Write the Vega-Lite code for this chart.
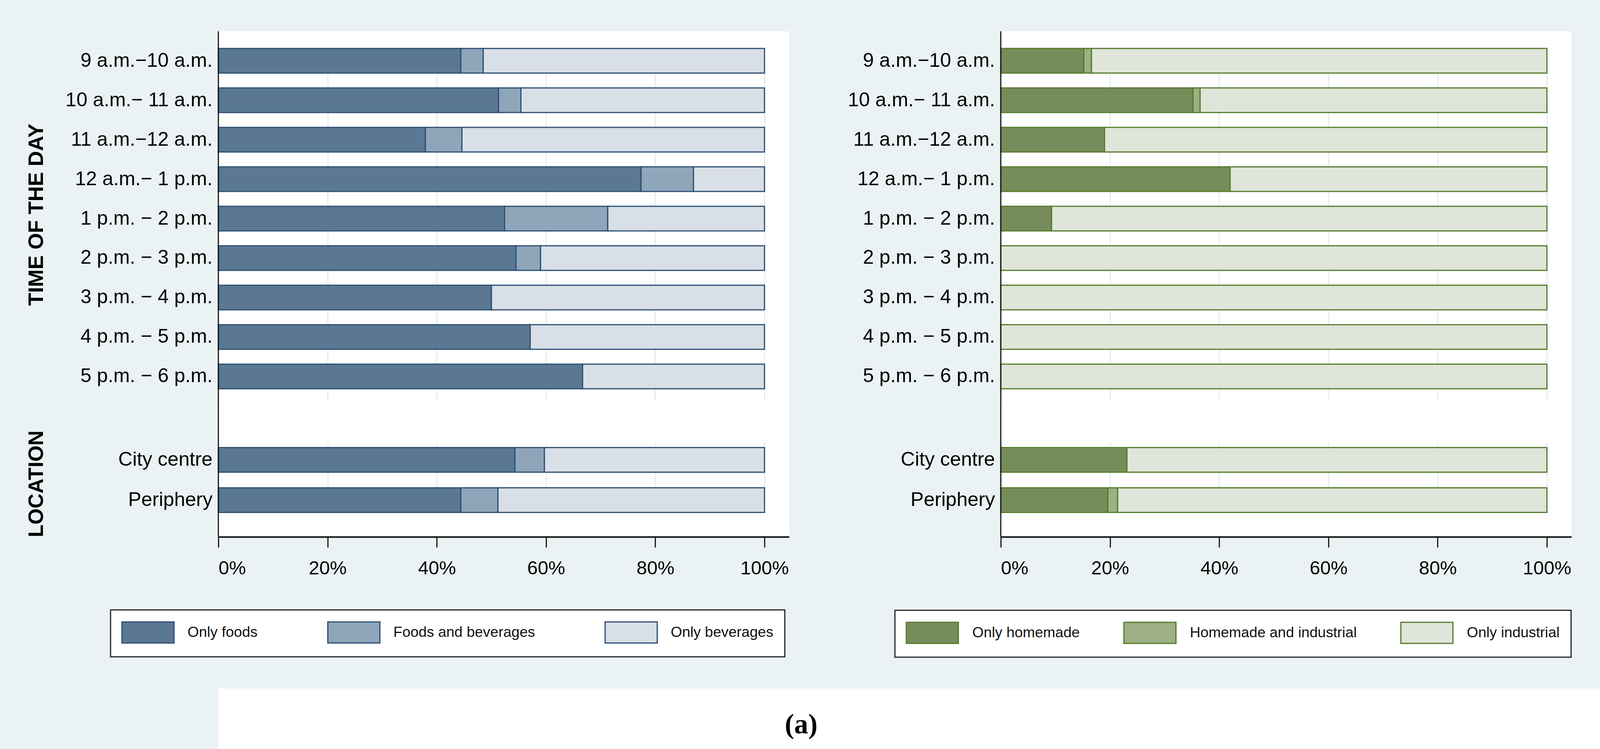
{
  "$schema": "https://vega.github.io/schema/vega-lite/v6.json",
  "background": "#EAF2F3",
  "padding": {"left": 66, "top": 78, "right": 0, "bottom": 0},
  "datasets": {
    "left": [
      {"g": "time", "slot": "9 a.m.−10 a.m.", "type": "Only foods", "k": 1, "pct": 44.4},
      {"g": "time", "slot": "9 a.m.−10 a.m.", "type": "Foods and beverages", "k": 2, "pct": 4.1},
      {"g": "time", "slot": "9 a.m.−10 a.m.", "type": "Only beverages", "k": 3, "pct": 51.5},
      {"g": "time", "slot": "10 a.m.− 11 a.m.", "type": "Only foods", "k": 1, "pct": 51.3},
      {"g": "time", "slot": "10 a.m.− 11 a.m.", "type": "Foods and beverages", "k": 2, "pct": 4.1},
      {"g": "time", "slot": "10 a.m.− 11 a.m.", "type": "Only beverages", "k": 3, "pct": 44.6},
      {"g": "time", "slot": "11 a.m.−12 a.m.", "type": "Only foods", "k": 1, "pct": 37.9},
      {"g": "time", "slot": "11 a.m.−12 a.m.", "type": "Foods and beverages", "k": 2, "pct": 6.7},
      {"g": "time", "slot": "11 a.m.−12 a.m.", "type": "Only beverages", "k": 3, "pct": 55.4},
      {"g": "time", "slot": "12 a.m.− 1 p.m.", "type": "Only foods", "k": 1, "pct": 77.4},
      {"g": "time", "slot": "12 a.m.− 1 p.m.", "type": "Foods and beverages", "k": 2, "pct": 9.6},
      {"g": "time", "slot": "12 a.m.− 1 p.m.", "type": "Only beverages", "k": 3, "pct": 13.0},
      {"g": "time", "slot": "1 p.m. − 2 p.m.", "type": "Only foods", "k": 1, "pct": 52.4},
      {"g": "time", "slot": "1 p.m. − 2 p.m.", "type": "Foods and beverages", "k": 2, "pct": 18.9},
      {"g": "time", "slot": "1 p.m. − 2 p.m.", "type": "Only beverages", "k": 3, "pct": 28.7},
      {"g": "time", "slot": "2 p.m. − 3 p.m.", "type": "Only foods", "k": 1, "pct": 54.5},
      {"g": "time", "slot": "2 p.m. − 3 p.m.", "type": "Foods and beverages", "k": 2, "pct": 4.5},
      {"g": "time", "slot": "2 p.m. − 3 p.m.", "type": "Only beverages", "k": 3, "pct": 41.0},
      {"g": "time", "slot": "3 p.m. − 4 p.m.", "type": "Only foods", "k": 1, "pct": 50.0},
      {"g": "time", "slot": "3 p.m. − 4 p.m.", "type": "Only beverages", "k": 3, "pct": 50.0},
      {"g": "time", "slot": "4 p.m. − 5 p.m.", "type": "Only foods", "k": 1, "pct": 57.1},
      {"g": "time", "slot": "4 p.m. − 5 p.m.", "type": "Only beverages", "k": 3, "pct": 42.9},
      {"g": "time", "slot": "5 p.m. − 6 p.m.", "type": "Only foods", "k": 1, "pct": 66.7},
      {"g": "time", "slot": "5 p.m. − 6 p.m.", "type": "Only beverages", "k": 3, "pct": 33.3},
      {"g": "loc", "slot": "City centre", "type": "Only foods", "k": 1, "pct": 54.3},
      {"g": "loc", "slot": "City centre", "type": "Foods and beverages", "k": 2, "pct": 5.4},
      {"g": "loc", "slot": "City centre", "type": "Only beverages", "k": 3, "pct": 40.3},
      {"g": "loc", "slot": "Periphery", "type": "Only foods", "k": 1, "pct": 44.4},
      {"g": "loc", "slot": "Periphery", "type": "Foods and beverages", "k": 2, "pct": 6.8},
      {"g": "loc", "slot": "Periphery", "type": "Only beverages", "k": 3, "pct": 48.8}
    ],
    "right": [
      {"g": "time", "slot": "9 a.m.−10 a.m.", "type": "Only homemade", "k": 1, "pct": 15.2},
      {"g": "time", "slot": "9 a.m.−10 a.m.", "type": "Homemade and industrial", "k": 2, "pct": 1.4},
      {"g": "time", "slot": "9 a.m.−10 a.m.", "type": "Only industrial", "k": 3, "pct": 83.4},
      {"g": "time", "slot": "10 a.m.− 11 a.m.", "type": "Only homemade", "k": 1, "pct": 35.2},
      {"g": "time", "slot": "10 a.m.− 11 a.m.", "type": "Homemade and industrial", "k": 2, "pct": 1.3},
      {"g": "time", "slot": "10 a.m.− 11 a.m.", "type": "Only industrial", "k": 3, "pct": 63.5},
      {"g": "time", "slot": "11 a.m.−12 a.m.", "type": "Only homemade", "k": 1, "pct": 19.0},
      {"g": "time", "slot": "11 a.m.−12 a.m.", "type": "Only industrial", "k": 3, "pct": 81.0},
      {"g": "time", "slot": "12 a.m.− 1 p.m.", "type": "Only homemade", "k": 1, "pct": 42.0},
      {"g": "time", "slot": "12 a.m.− 1 p.m.", "type": "Only industrial", "k": 3, "pct": 58.0},
      {"g": "time", "slot": "1 p.m. − 2 p.m.", "type": "Only homemade", "k": 1, "pct": 9.3},
      {"g": "time", "slot": "1 p.m. − 2 p.m.", "type": "Only industrial", "k": 3, "pct": 90.7},
      {"g": "time", "slot": "2 p.m. − 3 p.m.", "type": "Only industrial", "k": 3, "pct": 100},
      {"g": "time", "slot": "3 p.m. − 4 p.m.", "type": "Only industrial", "k": 3, "pct": 100},
      {"g": "time", "slot": "4 p.m. − 5 p.m.", "type": "Only industrial", "k": 3, "pct": 100},
      {"g": "time", "slot": "5 p.m. − 6 p.m.", "type": "Only industrial", "k": 3, "pct": 100},
      {"g": "loc", "slot": "City centre", "type": "Only homemade", "k": 1, "pct": 23.1},
      {"g": "loc", "slot": "City centre", "type": "Only industrial", "k": 3, "pct": 76.9},
      {"g": "loc", "slot": "Periphery", "type": "Only homemade", "k": 1, "pct": 19.6},
      {"g": "loc", "slot": "Periphery", "type": "Homemade and industrial", "k": 2, "pct": 1.8},
      {"g": "loc", "slot": "Periphery", "type": "Only industrial", "k": 3, "pct": 78.6}
    ]
  },
  "spacing": 78,
  "columns": 1,
  "align": "none",
  "concat": [
    {
      "spacing": 139,
      "resolve": {"scale": {"color": "independent"}, "legend": {"color": "independent"}},
      "hconcat": [
        {
          "spacing": 0,
          "bounds": "flush",
          "resolve": {"scale": {"color": "independent"}, "legend": {"color": "independent"}},
          "vconcat": [
            {
              "width": 1461,
              "height": 990,
              "layer": [
                {
                  "data": {"name": "left"},
                  "transform": [{"filter": "datum.g === 'time'"}],
                  "mark": {"type": "bar", "stroke": "#2B4F73", "strokeWidth": 3},
                  "encoding": {
                    "y": {
                      "field": "slot", "type": "nominal",
                      "sort": ["9 a.m.−10 a.m.", "10 a.m.− 11 a.m.", "11 a.m.−12 a.m.", "12 a.m.− 1 p.m.", "1 p.m. − 2 p.m.", "2 p.m. − 3 p.m.", "3 p.m. − 4 p.m.", "4 p.m. − 5 p.m.", "5 p.m. − 6 p.m."],
                      "scale": {"range": [44, 915], "paddingInner": 0.376, "paddingOuter": 0},
                      "axis": {"title": "TIME OF THE DAY", "titleFontSize": 54, "ticks": false, "domain": false, "labelPadding": 15.3, "minExtent": 420, "maxExtent": 420, "titlePadding": 19, "titleY": 469}
                    },
                    "x": {
                      "field": "pct", "type": "quantitative", "stack": "zero",
                      "scale": {"domain": [0, 104.5], "nice": false},
                      "axis": {"title": null, "labels": false, "ticks": false, "domain": false, "grid": true, "values": [0, 20, 40, 60, 80, 100]}
                    },
                    "color": {
                      "field": "type", "type": "nominal",
                      "scale": {"domain": ["Only foods", "Foods and beverages", "Only beverages"], "range": ["#5B7893", "#8EA5BA", "#D8DFE7"]},
                      "legend": null
                    },
                    "order": {"field": "k", "type": "quantitative"}
                  }
                },
                {
                  "data": {"values": [{}]},
                  "mark": {"type": "rule", "color": "#111111", "strokeWidth": 2.9},
                  "encoding": {"x": {"datum": 0}}
                }
              ]
            },
            {
              "width": 1461,
              "height": 304,
              "layer": [
                {
                  "data": {"name": "left"},
                  "transform": [{"filter": "datum.g === 'loc'"}],
                  "mark": {"type": "bar", "stroke": "#2B4F73", "strokeWidth": 3},
                  "encoding": {
                    "y": {
                      "field": "slot", "type": "nominal",
                      "sort": ["City centre", "Periphery"],
                      "scale": {"range": [75.5, 241.5], "paddingInner": 0.388, "paddingOuter": 0},
                      "axis": {"title": "LOCATION", "titleFontSize": 53, "ticks": false, "domain": false, "labelPadding": 15.3, "minExtent": 420, "maxExtent": 420, "titlePadding": 19, "titleY": 168}
                    },
                    "x": {
                      "field": "pct", "type": "quantitative", "stack": "zero",
                      "scale": {"domain": [0, 104.5], "nice": false},
                      "axis": {"title": null, "grid": true, "values": [0, 20, 40, 60, 80, 100], "labelExpr": "datum.value + '%'", "tickSize": 27, "tickWidth": 2.9, "tickColor": "#111111", "domainColor": "#111111", "domainWidth": 4, "labelFontSize": 48.5, "labelPadding": 30}
                    },
                    "color": {
                      "field": "type", "type": "nominal",
                      "scale": {"domain": ["Only foods", "Foods and beverages", "Only beverages"], "range": ["#5B7893", "#8EA5BA", "#D8DFE7"]},
                      "legend": {
                        "orient": "none", "legendX": -276, "legendY": 491, "direction": "horizontal", "columns": 3, "title": null,
                        "symbolType": "M-2.47,-1H2.47V1H-2.47Z", "symbolSize": 2916, "symbolOffset": 38.3, "labelOffset": 72.7,
                        "columnPadding": 173, "padding": 29, "fillColor": "white", "strokeColor": "#222222",
                        "symbolStrokeColor": "#2B4F73", "symbolStrokeWidth": 3, "symbolOpacity": 1,
                        "labelFontSize": 37.5, "labelColor": "#111111", "labelLimit": 700
                      }
                    },
                    "order": {"field": "k", "type": "quantitative"}
                  }
                },
                {
                  "data": {"values": [{}]},
                  "mark": {"type": "rule", "color": "#111111", "strokeWidth": 2.9},
                  "encoding": {"x": {"datum": 0}}
                }
              ]
            }
          ]
        },
        {
          "spacing": 0,
          "bounds": "flush",
          "resolve": {"scale": {"color": "independent"}, "legend": {"color": "independent"}},
          "vconcat": [
            {
              "width": 1461,
              "height": 990,
              "layer": [
                {
                  "data": {"name": "right"},
                  "transform": [{"filter": "datum.g === 'time'"}],
                  "mark": {"type": "bar", "stroke": "#557A2A", "strokeWidth": 3},
                  "encoding": {
                    "y": {
                      "field": "slot", "type": "nominal",
                      "sort": ["9 a.m.−10 a.m.", "10 a.m.− 11 a.m.", "11 a.m.−12 a.m.", "12 a.m.− 1 p.m.", "1 p.m. − 2 p.m.", "2 p.m. − 3 p.m.", "3 p.m. − 4 p.m.", "4 p.m. − 5 p.m.", "5 p.m. − 6 p.m."],
                      "scale": {"range": [44, 915], "paddingInner": 0.376, "paddingOuter": 0},
                      "axis": {"title": null, "ticks": false, "domain": false, "labelPadding": 15.3, "minExtent": 403, "maxExtent": 403}
                    },
                    "x": {
                      "field": "pct", "type": "quantitative", "stack": "zero",
                      "scale": {"domain": [0, 104.5], "nice": false},
                      "axis": {"title": null, "labels": false, "ticks": false, "domain": false, "grid": true, "values": [0, 20, 40, 60, 80, 100]}
                    },
                    "color": {
                      "field": "type", "type": "nominal",
                      "scale": {"domain": ["Only homemade", "Homemade and industrial", "Only industrial"], "range": ["#778C5B", "#9CB083", "#DFE5D9"]},
                      "legend": null
                    },
                    "order": {"field": "k", "type": "quantitative"}
                  }
                },
                {
                  "data": {"values": [{}]},
                  "mark": {"type": "rule", "color": "#111111", "strokeWidth": 2.9},
                  "encoding": {"x": {"datum": 0}}
                }
              ]
            },
            {
              "width": 1461,
              "height": 304,
              "layer": [
                {
                  "data": {"name": "right"},
                  "transform": [{"filter": "datum.g === 'loc'"}],
                  "mark": {"type": "bar", "stroke": "#557A2A", "strokeWidth": 3},
                  "encoding": {
                    "y": {
                      "field": "slot", "type": "nominal",
                      "sort": ["City centre", "Periphery"],
                      "scale": {"range": [75.5, 241.5], "paddingInner": 0.388, "paddingOuter": 0},
                      "axis": {"title": null, "ticks": false, "domain": false, "labelPadding": 15.3, "minExtent": 403, "maxExtent": 403}
                    },
                    "x": {
                      "field": "pct", "type": "quantitative", "stack": "zero",
                      "scale": {"domain": [0, 104.5], "nice": false},
                      "axis": {"title": null, "grid": true, "values": [0, 20, 40, 60, 80, 100], "labelExpr": "datum.value + '%'", "tickSize": 27, "tickWidth": 2.9, "tickColor": "#111111", "domainColor": "#111111", "domainWidth": 4, "labelFontSize": 48.5, "labelPadding": 30}
                    },
                    "color": {
                      "field": "type", "type": "nominal",
                      "scale": {"domain": ["Only homemade", "Homemade and industrial", "Only industrial"], "range": ["#778C5B", "#9CB083", "#DFE5D9"]},
                      "legend": {
                        "orient": "none", "legendX": -271, "legendY": 492, "direction": "horizontal", "columns": 3, "title": null,
                        "symbolType": "M-2.47,-1H2.47V1H-2.47Z", "symbolSize": 2916, "symbolOffset": 38.3, "labelOffset": 73.7,
                        "columnPadding": 106, "padding": 29, "fillColor": "white", "strokeColor": "#222222",
                        "symbolStrokeColor": "#557A2A", "symbolStrokeWidth": 3, "symbolOpacity": 1,
                        "labelFontSize": 37.5, "labelColor": "#111111", "labelLimit": 700
                      }
                    },
                    "order": {"field": "k", "type": "quantitative"}
                  }
                },
                {
                  "data": {"values": [{}]},
                  "mark": {"type": "rule", "color": "#111111", "strokeWidth": 2.9},
                  "encoding": {"x": {"datum": 0}}
                }
              ]
            }
          ]
        }
      ]
    },
    {
      "width": 3560,
      "height": 165,
      "view": {"fill": "#FFFFFF", "stroke": null},
      "data": {"values": [{"caption": "(a)"}]},
      "mark": {"type": "text", "font": "Liberation Serif", "fontSize": 72, "fontWeight": "bold", "color": "#000000", "dx": -288, "dy": 32.5, "baseline": "alphabetic", "align": "center"},
      "encoding": {"text": {"field": "caption", "type": "nominal"}}
    }
  ],
  "config": {
    "font": "Liberation Sans",
    "view": {"stroke": null, "fill": "white"},
    "axis": {
      "labelFont": "Liberation Sans", "titleFont": "Liberation Sans",
      "labelFontSize": 50.5, "labelColor": "#000000", "labelFontWeight": "normal",
      "titleFontSize": 48, "titleFontWeight": "bold", "titleColor": "#000000",
      "gridColor": "#E3ECEF", "gridWidth": 2.9, "labelLimit": 1000
    },
    "legend": {"labelFont": "Liberation Sans", "strokeWidth": 3}
  }
}
